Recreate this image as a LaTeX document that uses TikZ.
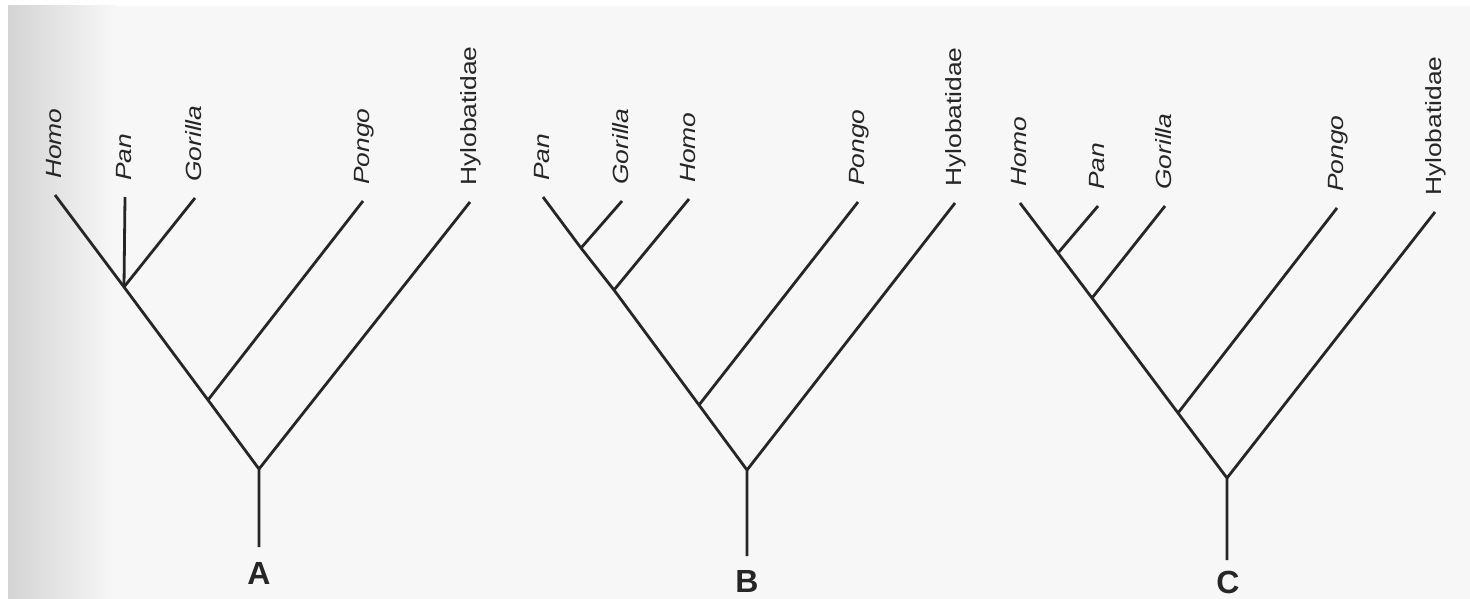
\documentclass[tikz,border=0pt]{standalone}
\usepackage{fontspec}
\setmainfont{Liberation Sans}
\usetikzlibrary{calc}
\newcommand{\taxon}[1]{\scalebox{1.2}[1]{\fontsize{22}{24}\selectfont #1}}
\tikzset{
  branch/.style={line width=2.8pt, black!85, line cap=butt, line join=miter},
  lbl/.style={rotate=90, anchor=base west, inner sep=0pt, text=black!85},
  treelbl/.style={inner sep=0pt, text=black!85, font=\fontsize{32}{34}\selectfont\bfseries}
}
\begin{document}
\begin{tikzpicture}[x=1pt,y=-1pt]
\useasboundingbox (0,0) rectangle (1470,599);
\fill[white] (0,0) rectangle (1470,599);
\fill[black!3] (8,6) rectangle (1470,599);
\shade[left color=black!17, right color=black!3] (8,6) rectangle (115,599);

% ---------- Tree A ----------
\coordinate (AHomo) at (55,195);
\coordinate (APan) at (125,197);
\coordinate (AGor) at (195,198);
\coordinate (APon) at (363,201);
\coordinate (AHyl) at (470,202);
\coordinate (An1) at (124,287);
\coordinate (An2) at (208,400);
\coordinate (Ar) at (259,469);
\coordinate (Ab) at (259,547);
\draw[branch] (AHomo) -- (An1) -- (An2) -- (Ar) -- (Ab);
\draw[branch] (APan) -- (An1);
\draw[branch] (AGor) -- (An1);
\draw[branch] (APon) -- (An2);
\draw[branch] (AHyl) -- (Ar);
\node[lbl] (lAHomo) at ([shift={(6,-16)}]AHomo) {\taxon{\itshape Homo}};
\node[lbl] (lAPan) at ([shift={(6,-16)}]APan) {\taxon{\itshape Pan}};
\node[lbl] (lAGor) at ([shift={(6,-16)}]AGor) {\taxon{\itshape Gorilla}};
\node[lbl] (lAPon) at ([shift={(6,-16)}]APon) {\taxon{\itshape Pongo}};
\node[lbl] (lAHyl) at ([shift={(6,-16)}]AHyl) {\taxon{Hylobatidae}};
\node[treelbl] (labA) at (259,573) {A};

% ---------- Tree B ----------
\coordinate (BPan) at (543,197);
\coordinate (BGor) at (622,201);
\coordinate (BHomo) at (689,199);
\coordinate (BPon) at (858,202);
\coordinate (BHyl) at (955,203);
\coordinate (Bn1) at (581,248);
\coordinate (Bn2) at (614,290);
\coordinate (Bn3) at (699,405);
\coordinate (Br) at (747,470);
\coordinate (Bb) at (747,556);
\draw[branch] (BPan) -- (Bn1) -- (Bn2) -- (Bn3) -- (Br) -- (Bb);
\draw[branch] (BGor) -- (Bn1);
\draw[branch] (BHomo) -- (Bn2);
\draw[branch] (BPon) -- (Bn3);
\draw[branch] (BHyl) -- (Br);
\node[lbl] (lBPan) at ([shift={(6,-16)}]BPan) {\taxon{\itshape Pan}};
\node[lbl] (lBGor) at ([shift={(6,-16)}]BGor) {\taxon{\itshape Gorilla}};
\node[lbl] (lBHomo) at ([shift={(6,-16)}]BHomo) {\taxon{\itshape Homo}};
\node[lbl] (lBPon) at ([shift={(6,-16)}]BPon) {\taxon{\itshape Pongo}};
\node[lbl] (lBHyl) at ([shift={(6,-16)}]BHyl) {\taxon{Hylobatidae}};
\node[treelbl] (labB) at (747,581) {B};

% ---------- Tree C ----------
\coordinate (CHomo) at (1020,203);
\coordinate (CPan) at (1098,206);
\coordinate (CGor) at (1165,206);
\coordinate (CPon) at (1337,208);
\coordinate (CHyl) at (1435,212);
\coordinate (Cn1) at (1058,253);
\coordinate (Cn2) at (1092,298);
\coordinate (Cn3) at (1178,413);
\coordinate (Cr) at (1227,478);
\coordinate (Cb) at (1227,560);
\draw[branch] (CHomo) -- (Cn1) -- (Cn2) -- (Cn3) -- (Cr) -- (Cb);
\draw[branch] (CPan) -- (Cn1);
\draw[branch] (CGor) -- (Cn2);
\draw[branch] (CPon) -- (Cn3);
\draw[branch] (CHyl) -- (Cr);
\node[lbl] (lCHomo) at ([shift={(6,-16)}]CHomo) {\taxon{\itshape Homo}};
\node[lbl] (lCPan) at ([shift={(6,-16)}]CPan) {\taxon{\itshape Pan}};
\node[lbl] (lCGor) at ([shift={(6,-16)}]CGor) {\taxon{\itshape Gorilla}};
\node[lbl] (lCPon) at ([shift={(6,-16)}]CPon) {\taxon{\itshape Pongo}};
\node[lbl] (lCHyl) at ([shift={(6,-16)}]CHyl) {\taxon{Hylobatidae}};
\node[treelbl] (labC) at (1228,582) {C};
\end{tikzpicture}
\end{document}
